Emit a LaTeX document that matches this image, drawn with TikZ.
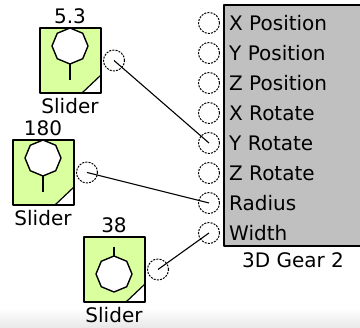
\documentclass[tikz,border=0pt]{standalone}
\usepackage{fontspec}
\setmainfont{DejaVu Sans}
\usetikzlibrary{shapes.geometric}
\definecolor{slidergreen}{RGB}{217,255,158}
\definecolor{blockgray}{RGB}{192,192,192}
\tikzset{
  port/.style={circle, draw, dash pattern=on 2pt off 1.2pt, line width=1pt, minimum size=21pt, inner sep=0pt},
  knob/.style={regular polygon, regular polygon sides=8, draw, fill=white, line width=1.4pt, minimum size=36pt, inner sep=0pt, shape border rotate=22.5},
  wire/.style={line width=1.1pt},
  lbl/.style={inner sep=0pt, text=black}
}
\begin{document}
\begin{tikzpicture}[x=1pt, y=-1pt, line join=round, font=\fontsize{20}{24}\selectfont]
\useasboundingbox (0,0) rectangle (360,328);
\shade[top color=white, bottom color=black!9] (0,308) rectangle (360,328);
% 3D Gear 2 block
\fill[blockgray] (224,5) rectangle (360,246);
\draw[line width=2pt] (360,5) -- (224,5) -- (224,246) -- (360,246);
\node[lbl, anchor=base] (gearname) at (293,268) {3D Gear 2};
\foreach \n/\t [count=\i] in {xpos/X Position, ypos/Y Position, zpos/Z Position, xrot/X Rotate, yrot/Y Rotate, zrot/Z Rotate, radius/Radius, width/Width}
{
  \node[port] (\n) at (209,{23+30*(\i-1)}) {};
  \node[lbl, anchor=base west] (\n text) at (229,{30.5+30*(\i-1)}) {\t};
}
% sliders: name / left / top / value / knob up (1) or down (0)
\foreach \s/\x/\y/\v/\up in {sa/40/28/5.3/1, sb/13/140/180/1, sc/84/237/38/0}
{
  \fill[slidergreen] (\x,\y) rectangle ++(61,65);
  \fill[white] (\x+42,\y+65) -- (\x+61,\y+65) -- (\x+61,\y+47) -- cycle;
  \draw[line width=1.2pt] (\x+42,\y+65) -- (\x+61,\y+47);
  \draw[line width=2pt] (\x,\y) rectangle ++(61,65);
  \ifnum\up=1
    \draw[line width=1.4pt] (\x+30,\y+30) -- (\x+30,\y+52);
    \node[knob] (\s knob) at (\x+30,\y+18) {};
  \else
    \draw[line width=1.4pt] (\x+30,\y+10) -- (\x+30,\y+25);
    \node[knob] (\s knob) at (\x+30,\y+37) {};
  \fi
  \node[lbl, anchor=base] (\s value) at (\x+30,\y-4) {\v};
  \node[lbl, anchor=base] (\s name) at (\x+30,\y+86) {Slider};
  \node[port] (\s out) at (\x+74,\y+32.5) {};
}
\draw[wire] (saout.center) -- (yrot.center);
\draw[wire] (sbout.center) -- (radius.center);
\draw[wire] (scout.center) -- (width.center);
\end{tikzpicture}
\end{document}
